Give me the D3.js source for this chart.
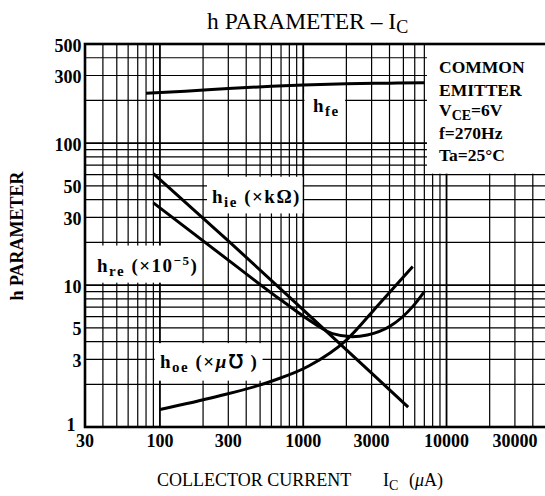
<!DOCTYPE html>
<html>
<head>
<meta charset="utf-8">
<script src="https://cdn.jsdelivr.net/npm/d3@7"></script>
<style>
  body { margin: 0; background: #fff; }
  svg { display: block; }
</style>
</head>
<body>
<div id="vis"></div>
<script>
// Values, collector current in µA
const hfeIc  = [80, 150, 300, 600, 1000, 2000, 4000, 7000];
const hfeVal = [225, 232, 243, 252, 257, 262, 265, 267];

const hieIc  = [90, 300, 1000, 3000, 5400];
const hieVal = [61, 20.5, 6.7, 2.4, 1.38];

const hreIc  = [90, 300, 700, 1200, 1600, 2200, 2800, 4000, 5800, 7000];
const hreVal = [38, 15, 7.85, 5.35, 4.55, 4.33, 4.45, 5.1, 7.05, 9.0];

const hoeIc  = [100, 250, 600, 1100, 2000, 3400, 5800];
const hoeVal = [1.33, 1.64, 2.1, 2.7, 4.1, 7.4, 13.5];

const xTicks = [30, 100, 300, 1000, 3000, 10000, 30000];
const yTicks = [1, 3, 5, 10, 30, 50, 100, 300, 500];

// Set up dimensions
let width = 545,
    height = 496;

const serif = '"Liberation Serif", "Times New Roman", serif';

let svg = d3.select('#vis')
  .append('svg')
  .attr('width', width)
  .attr('height', height)
  .style('background', '#fff');

let x = d3.scaleLog().domain([30, 50000]).range([85, 546.7]);
let y = d3.scaleLog().domain([1, 500]).range([427, 44]);

const isDecade = v => Math.abs(Math.log10(v) - Math.round(Math.log10(v))) < 1e-9;

// Grid
let grid = svg.append('g').attr('stroke', '#000');
grid.selectAll('line.v')
  .data(x.ticks().filter(v => v > 30 && v < 50000))
  .enter().append('line')
  .attr('x1', d => x(d)).attr('x2', d => x(d))
  .attr('y1', y(500)).attr('y2', y(1))
  .attr('stroke-width', d => isDecade(d) ? 1.8 : 1.2);
grid.selectAll('line.h')
  .data(y.ticks().filter(v => v > 1 && v < 500))
  .enter().append('line')
  .attr('x1', x(30)).attr('x2', x(50000))
  .attr('y1', d => y(d)).attr('y2', d => y(d))
  .attr('stroke-width', d => isDecade(d) ? 1.8 : 1.2);

// White boxes behind the labels (in data units)
const boxes = [
  [7300, 50000, 61, 500],   // conditions box
  [1020, 1960, 105, 225],   // hfe
  [213, 990, 32, 58],       // hie
  [31.5, 196, 10.4, 19],    // hre
  [92, 520, 2.12, 3.9]      // hoe
];
svg.append('g').selectAll('rect')
  .data(boxes)
  .enter().append('rect')
  .attr('x', d => x(d[0]))
  .attr('y', d => y(d[3]))
  .attr('width', d => x(d[1]) - x(d[0]))
  .attr('height', d => y(d[2]) - y(d[3]))
  .attr('fill', '#fff');

// Frame
svg.append('rect')
  .attr('x', x(30)).attr('y', y(500))
  .attr('width', x(50000) - x(30)).attr('height', y(1) - y(500))
  .attr('fill', 'none').attr('stroke', '#000').attr('stroke-width', 2.6);

// Curves
let line = d3.line()
  .x(d => x(d[0]))
  .y(d => y(d[1]))
  .curve(d3.curveMonotoneX);

const series = [
  d3.zip(hfeIc, hfeVal),
  d3.zip(hieIc, hieVal),
  d3.zip(hreIc, hreVal),
  d3.zip(hoeIc, hoeVal)
];
svg.append('g').selectAll('path')
  .data(series)
  .enter().append('path')
  .attr('d', line)
  .attr('fill', 'none')
  .attr('stroke', '#000')
  .attr('stroke-width', 3);

// Tick labels
svg.append('g').selectAll('text')
  .data(xTicks)
  .enter().append('text')
  .attr('x', d => x(d))
  .attr('y', 446.5)
  .attr('text-anchor', 'middle')
  .text(d => d)
  .style('font-family', serif).style('font-weight', 'bold').style('font-size', '18px');

// "1" sits in the corner, nudged left so it clears the "30"
svg.append('g').selectAll('text')
  .data(yTicks)
  .enter().append('text')
  .attr('x', d => d === 1 ? 75.5 : 81.5)
  .attr('y', d => d === 1 ? y(d) + 3.5 : y(d) + 7.5)
  .attr('text-anchor', 'end')
  .text(d => d)
  .style('font-family', serif).style('font-weight', 'bold').style('font-size', '18px');

// Title
let title = svg.append('text')
  .attr('x', 207).attr('y', 29)
  .style('font-family', serif).style('font-size', '23.5px');
title.append('tspan').text('h PARAMETER \u2013 I');
title.append('tspan').attr('dy', 4).style('font-size', '18px').text('C');

// Axis titles
let xl = svg.append('text')
  .attr('x', 157).attr('y', 486)
  .style('font-family', serif).style('font-size', '18px');
xl.append('tspan').text('COLLECTOR CURRENT');
xl.append('tspan').attr('x', 383).text('I');
xl.append('tspan').attr('dy', 4).style('font-size', '14px').text('C');
xl.append('tspan').attr('x', 409).attr('dy', -4).text('(');
xl.append('tspan').style('font-style', 'italic').text('\u03bc');
xl.append('tspan').text('A)');

svg.append('text')
  .attr('transform', 'translate(23, 236) rotate(-90)')
  .attr('text-anchor', 'middle')
  .text('h PARAMETER')
  .style('font-family', serif).style('font-weight', 'bold').style('font-size', '18px');

// Conditions box text
let cond = svg.append('g')
  .style('font-family', serif).style('font-weight', 'bold').style('font-size', '17.5px');
cond.append('text').attr('x', 439).attr('y', 73).text('COMMON');
cond.append('text').attr('x', 439).attr('y', 96).text('EMITTER');
let vce = cond.append('text').attr('x', 439).attr('y', 116);
vce.append('tspan').text('V');
vce.append('tspan').attr('dy', 4).style('font-size', '14px').text('CE');
vce.append('tspan').attr('dy', -4).text('=6V');
cond.append('text').attr('x', 439).attr('y', 139).text('f=270Hz');
cond.append('text').attr('x', 439).attr('y', 161).text('Ta=25\u00b0C');

// Curve labels
function label(px, py, sub) {
  let t = svg.append('text')
    .attr('x', px).attr('y', py)
    .style('font-family', serif).style('font-weight', 'bold')
    .style('font-size', '19px').style('letter-spacing', '1.5px');
  t.append('tspan').text('h');
  t.append('tspan').attr('dy', 4).style('font-size', '15px').text(sub);
  return t;
}
label(313, 112, 'fe');

let lie = label(212, 203, 'ie');
lie.append('tspan').attr('dy', -4).text(' (\u00d7k\u03a9)');

let lre = label(97, 272, 're');
lre.append('tspan').attr('dy', -4).text(' (\u00d710');
lre.append('tspan').attr('dy', -7).style('font-size', '13px').text('\u22125');
lre.append('tspan').attr('dy', 7).text(')');

let loe = label(160, 368, 'oe');
loe.append('tspan').attr('dy', -4).text(' (\u00d7');
loe.append('tspan').style('font-style', 'italic').text('\u03bc');
loe.append('tspan').text('\u2127 )');
</script>
</body>
</html>
